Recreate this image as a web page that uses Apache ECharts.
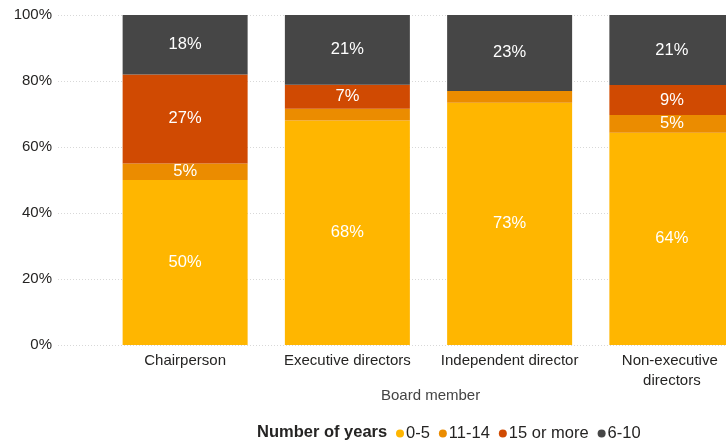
<!DOCTYPE html>
<html>
<head>
<meta charset="utf-8">
<script src="https://cdn.jsdelivr.net/npm/echarts@6/dist/echarts.min.js"></script>
<style>
  html, body { margin: 0; padding: 0; background: #fff; }
  #chart { width: 726px; height: 440px; }
</style>
</head>
<body>
<div id="chart"></div>
<script>
// Board member tenure, share of members by number of years served
const categories = ['Chairperson', 'Executive directors', 'Independent director', 'Non-executive directors'];
const seriesNames = ['0-5', '11-14', '15 or more', '6-10'];
const years0to5 = [50, 68, 73.4, 64.3];
const years11to14 = [5, 3.6, 3.6, 5.4];
const years15plus = [27, 7.3, 0, 9.1];
const years6to10 = [18, 21.1, 23, 21.2];
const yTicks = [0, 20, 40, 60, 80, 100];

const colors = ['#FFB600', '#EB8C00', '#D04A02', '#464646'];
const seriesValues = [years0to5, years11to14, years15plus, years6to10];
const font = '"Liberation Sans", Arial, sans-serif';

const chart = echarts.init(document.getElementById('chart'), null, { renderer: 'canvas' });

const barSeries = seriesNames.map((name, i) => ({
  name: name,
  type: 'bar',
  stack: 'total',
  xAxisIndex: 1,
  yAxisIndex: 1,
  barWidth: 125,
  itemStyle: { color: colors[i] },
  label: {
    show: true,
    position: 'inside',
    color: '#fff',
    fontSize: 16.5,
    fontFamily: font,
    formatter: p => (Math.round(p.value) >= 5 ? Math.round(p.value) + '%' : '')
  },
  data: seriesValues[i]
}));

chart.setOption({
  animation: false,
  textStyle: { fontFamily: font },
  grid: [
    { left: 58, right: 0, top: 15, bottom: 95, outerBoundsMode: 'none' },
    // the last category runs past the right edge of the canvas
    { left: 104, right: -27, top: 15, bottom: 95, outerBoundsMode: 'none' }
  ],
  xAxis: [
    { gridIndex: 0, type: 'category', data: categories, show: false },
    {
      gridIndex: 1,
      type: 'category',
      data: categories,
      axisLine: { show: false },
      axisTick: { show: false },
      axisLabel: {
        interval: 0,
        color: '#252423',
        fontSize: 15,
        margin: 6,
        width: 150,
        overflow: 'break',
        lineHeight: 20,
        fontFamily: font
      }
    }
  ],
  yAxis: [
    {
      gridIndex: 0,
      type: 'value',
      min: yTicks[0],
      max: yTicks[yTicks.length - 1],
      interval: 20,
      axisLine: { show: false },
      axisTick: { show: false },
      axisLabel: {
        color: '#252423',
        fontSize: 15,
        margin: 6,
        fontFamily: font,
        formatter: '{value}%'
      },
      splitLine: { show: true, lineStyle: { color: '#d8d8d8', type: [1, 2], width: 1 } }
    },
    {
      gridIndex: 1,
      type: 'value',
      min: yTicks[0],
      max: yTicks[yTicks.length - 1],
      show: false,
      splitLine: { show: false }
    }
  ],
  legend: {
    left: 396,
    top: 425,
    padding: 0,
    icon: 'circle',
    itemWidth: 8,
    itemHeight: 8,
    itemGap: 9,
    data: seriesNames,
    textStyle: { color: '#252423', fontSize: 16.5, fontFamily: font, padding: [0, 0, 0, -3] }
  },
  graphic: [
    {
      type: 'text',
      left: 257,
      top: 424,
      style: { text: 'Number of years', fill: '#252423', font: 'bold 16.5px ' + font }
    },
    {
      type: 'text',
      left: 381,
      top: 388,
      style: { text: 'Board member', fill: '#444', font: '15px ' + font }
    }
  ],
  series: barSeries
});
</script>
</body>
</html>
